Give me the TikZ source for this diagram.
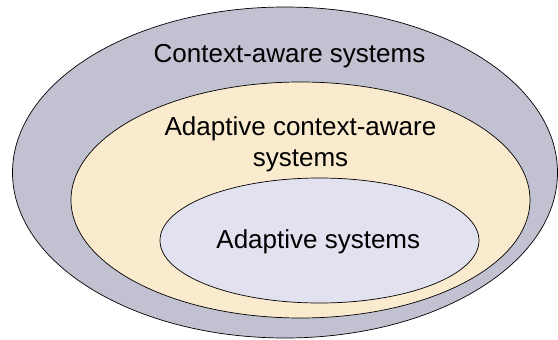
\documentclass[tikz,border=0pt]{standalone}
\usepackage{fontspec}
\setmainfont{Liberation Sans}
\definecolor{outerfill}{RGB}{193,193,209}
\definecolor{middlefill}{RGB}{250,235,206}
\definecolor{innerfill}{RGB}{225,225,239}
\begin{document}
\begin{tikzpicture}[x=1pt,y=-1pt,
  ring/.style={draw=black,line width=0.7pt},
  label/.style={font=\fontsize{26}{31.7}\selectfont,align=center,inner sep=0pt,anchor=base}]
\useasboundingbox (0,0) rectangle (558,340);
% nested sets
\draw[ring,fill=outerfill] (285,172.5) ellipse [x radius=272.5, y radius=165.5];
\draw[ring,fill=middlefill] (300.5,200) ellipse [x radius=229.5, y radius=118];
\draw[ring,fill=innerfill] (319.5,240.5) ellipse [x radius=159.5, y radius=62.5];
% set names (base anchor sits on the last line's baseline)
\node[label] (ctx) at (289.5,62.3) {Context-aware systems};
\node[label] (actx) at (300.5,166.7) {Adaptive context-aware\\systems};
\node[label] (ad) at (318.3,248.3) {Adaptive systems};
\end{tikzpicture}
\end{document}
